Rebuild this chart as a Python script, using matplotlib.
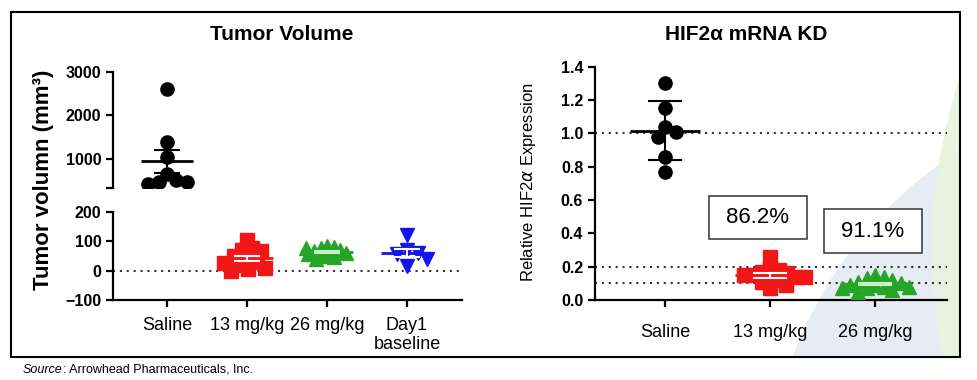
import numpy as np
import matplotlib
matplotlib.use("Agg")
import matplotlib.pyplot as plt
from matplotlib import patches

plt.rcParams['font.family'] = ['Liberation Sans', 'DejaVu Sans']

# ---- data ----
tumor_groups = ["Saline", "13 mg/kg", "26 mg/kg", "Day1\nbaseline"]
tumor_saline = [2600, 1400, 1050, 650, 520, 470, 430, 480]
tumor_13 = [105, 75, 70, 65, 40, 30, 20, 10, 5, 0, 25, 50]
tumor_26 = [85, 80, 75, 70, 65, 62, 58, 55, 50, 45, 40, 78]
tumor_day1 = [120, 70, 60, 55, 40, 15]

kd_groups = ["Saline", "13 mg/kg", "26 mg/kg"]
kd_saline = [1.30, 1.15, 1.04, 1.01, 0.98, 0.86, 0.77]
kd_13 = [0.26, 0.19, 0.18, 0.17, 0.16, 0.15, 0.14, 0.13, 0.12, 0.11, 0.09, 0.07, 0.15, 0.14]
kd_26 = [0.15, 0.14, 0.13, 0.12, 0.11, 0.10, 0.09, 0.09, 0.08, 0.07, 0.06, 0.05, 0.08, 0.07]
kd_labels = ["86.2%", "91.1%"]

W, H = 978, 380
fig = plt.figure(figsize=(W / 100, H / 100), dpi=100)
fig.patch.set_facecolor("white")


def swarm_x(ax, xc, vals, d):
    # simple beeswarm in pixel space
    pts = ax.transData.transform(np.column_stack([np.full(len(vals), xc), vals]))
    x0 = pts[0, 0]
    placed = []
    for y in pts[:, 1]:
        cands = [0.0]
        for px, py in placed:
            dy = y - py
            if abs(dy) < d:
                dx = np.sqrt(d * d - dy * dy)
                cands += [px + dx, px - dx]
        cands.sort(key=abs)
        for c in cands:
            if all((c - px) ** 2 + (y - py) ** 2 >= d * d - 1e-6 for px, py in placed):
                placed.append((c, y))
                break
    xs = np.array([x0 + p[0] for p in placed])
    return ax.transData.inverted().transform(np.column_stack([xs, pts[:, 1]]))[:, 0]


def group(ax, xc, vals, color, marker, ms, err="sem", barcol="k", d=11):
    vals = np.asarray(vals, float)
    xs = swarm_x(ax, xc, vals, d)
    ax.plot(xs, vals, ls="none", marker=marker, ms=ms, color=color, mec=color, zorder=3)
    m = vals.mean()
    s = vals.std(ddof=1)
    if err == "sem":
        s = s / np.sqrt(len(vals))
    ax.plot([xc - 0.33, xc + 0.33], [m, m], color=color, lw=2, zorder=4, solid_capstyle="butt")
    ax.plot([xc, xc], [m - s, m + s], color=barcol, lw=1.5, zorder=4)
    for v in (m - s, m + s):
        ax.plot([xc - 0.15, xc + 0.15], [v, v], color=barcol, lw=1.5, zorder=4)


def style(ax):
    ax.patch.set_alpha(0)
    for sp in ("top", "right"):
        ax.spines[sp].set_visible(False)
    for sp in ("left", "bottom"):
        ax.spines[sp].set_linewidth(1.6)
    ax.tick_params(width=1.6, length=5, labelsize=11.5)
    for lab in ax.get_yticklabels():
        lab.set_fontweight("bold")


dot = dict(color="#333333", lw=1.5, ls=(0, (1, 2.3)), zorder=1)

# ---- left: tumor volume, broken axis ----
axl = fig.add_axes([113.3 / W, 80 / H, 348.4 / W, 88.3 / H])
axu = fig.add_axes([113.3 / W, 191.7 / H, 348.4 / W, 116.6 / H])
xl = (-0.671, 3.684)
for ax in (axl, axu):
    ax.set_xlim(*xl)
axl.set_ylim(-100, 200)
axu.set_ylim(330, 3000)

axl.set_yticks([-100, 0, 100, 200])
axl.set_xticks(range(len(tumor_groups)))
axl.set_xticklabels(tumor_groups, fontsize=13)
axu.set_yticks([330, 1000, 2000, 3000])
axu.set_yticklabels(["", "1000", "2000", "3000"])
axu.spines["bottom"].set_visible(False)
axu.set_xticks([])
style(axl)
style(axu)
axl.tick_params(axis="x", labelsize=13, pad=7)
axl.axhline(0, **dot)

group(axu, 0, tumor_saline, "black", "o", 9.5, d=11)
group(axl, 1, tumor_13, "#f21616", "s", 9.5, barcol="white", d=10)
group(axl, 2, tumor_26, "#25a525", "^", 9.5, barcol="#c8f0c8", d=7)
group(axl, 3, tumor_day1, "#1414ee", "v", 10.5, barcol="white", d=11)

fig.text(44 / W, 1 - 180 / H, "Tumor volumn (mm³)", rotation=90, ha="center", va="center",
         fontsize=16, fontweight="bold")
fig.text(282 / W, 1 - 35 / H, "Tumor Volume", ha="center", va="center", fontsize=15,
         fontweight="bold")

# ---- right: HIF2a knockdown ----
axr = fig.add_axes([595 / W, 80 / H, 352 / W, 233.3 / H])
axr.set_xlim(-0.667, 2.686)
axr.set_ylim(0, 1.4)
axr.set_yticks(np.arange(0, 1.41, 0.2))
axr.set_yticklabels([f"{v:.1f}" for v in np.arange(0, 1.41, 0.2)])
axr.set_xticks(range(len(kd_groups)))
axr.set_xticklabels(kd_groups, fontsize=13)
style(axr)
axr.tick_params(axis="x", labelsize=13, pad=12)
for yv in (1.0, 0.2, 0.1):
    axr.axhline(yv, **dot)

group(axr, 0, kd_saline, "black", "o", 9.5, err="sd", d=12)
group(axr, 1, kd_13, "#f21616", "s", 9.5, err="sem", barcol="white", d=9)
group(axr, 2, kd_26, "#25a525", "^", 9.5, err="sem", barcol="#c8f0c8", d=9)

boxes = [(0.419, 0.366, 0.933, 0.258), (1.514, 0.282, 0.934, 0.264)]
for (bx, by, bw, bh), lab in zip(boxes, kd_labels):
    axr.add_patch(patches.Rectangle((bx, by), bw, bh, fill=True, facecolor="white",
                                    edgecolor="#333333", lw=1.1, zorder=5))
    axr.text(bx + bw / 2, by + bh / 2, lab, ha="center", va="center", fontsize=16, zorder=6)

fig.text(529 / W, 1 - 182 / H, r"Relative HIF2$\alpha$ Expression", rotation=90,
         ha="center", va="center", fontsize=12)
fig.text(746 / W, 1 - 35 / H, "HIF2α mRNA KD", ha="center", va="center", fontsize=15,
         fontweight="bold")

# ---- frame, faint background shapes, source ----
frame = patches.Rectangle((11 / W, 1 - 357 / H), 949 / W, 345 / H, transform=fig.transFigure,
                          fill=False, edgecolor="black", lw=1.5, zorder=10)
fig.patches.append(frame)
clip = patches.Rectangle((11 / W, 1 - 357 / H), 949 / W, 345 / H, transform=fig.transFigure)
for (cx, cy, r, col) in [(1180, 500, 413, "#e4eaf2"), (1480, 250, 548, "#e8f3de")]:
    e = patches.Ellipse((cx / W, 1 - cy / H), 2 * r / W, 2 * r / H, transform=fig.transFigure,
                        facecolor=col, edgecolor="none", zorder=-5, alpha=0.9)
    e.set_clip_path(clip)
    fig.patches.append(e)

src = fig.text(23 / W, 1 - 370 / H, "Source", fontsize=9, style="italic", va="center")
axr.annotate(": Arrowhead Pharmaceuticals, Inc.", xy=(1, 0.5), xycoords=src, va="center",
             fontsize=9, annotation_clip=False)

fig.savefig("out.png", dpi=100)
